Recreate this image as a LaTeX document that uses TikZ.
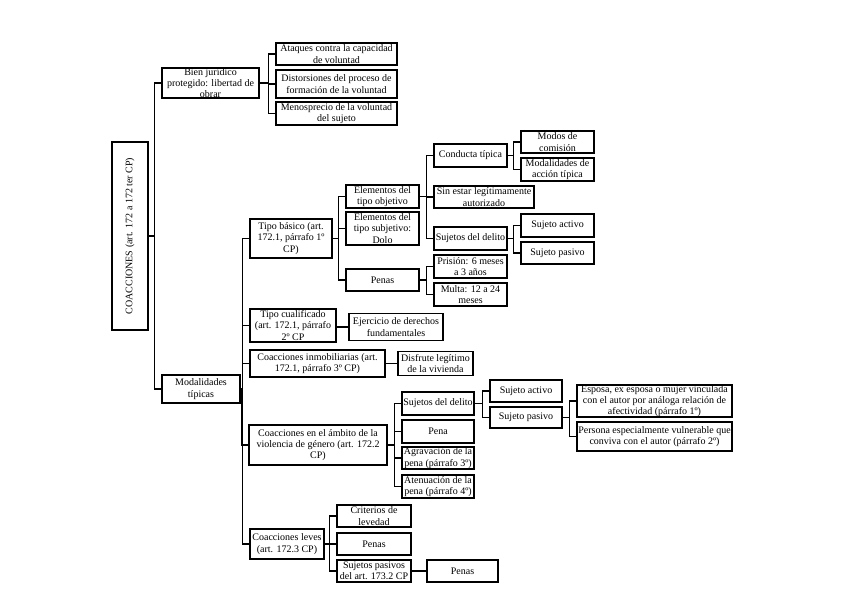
\documentclass[tikz,border=0pt]{standalone}
\usepackage{fontspec}
\setmainfont{Liberation Serif}
\begin{document}
\begin{tikzpicture}[x=1pt,y=-1pt,
  box/.style={draw=black, line width=1.1pt, align=center, inner sep=0pt,
    font=\fontsize{10}{11.3}\selectfont},
  conn/.style={line width=1.1pt, draw=black}]
\useasboundingbox (0,0) rectangle (848,599);
\fill[white] (0,0) rectangle (848,599);

% root
\node[box, minimum width=36, minimum height=188] (root) at (130,236)
  {\rotatebox{90}{COACCIONES (art. 172 a 172 ter CP)}};

% bien juridico
\node[box, minimum width=97, minimum height=30] (bien) at (210.5,83) {Bien jurídico\\protegido: libertad de\\obrar};
\node[box, minimum width=121, minimum height=22] (ataq) at (336.5,54) {Ataques contra la capacidad\\de voluntad};
\node[box, minimum width=121, minimum height=28] (dist) at (336.5,84) {Distorsiones del proceso de\\formación de la voluntad};
\node[box, minimum width=121, minimum height=23] (menos) at (336.5,113.5) {Menosprecio de la voluntad\\del sujeto};

% modalidades
\node[box, minimum width=78, minimum height=28] (mod) at (201,389) {Modalidades\\típicas};

% tipo basico
\node[box, minimum width=82, minimum height=39] (basico) at (291,238.5) {Tipo básico (art.\\172.1, párrafo 1º\\CP)};
\node[box, minimum width=73, minimum height=23] (eobj) at (382.5,196.5) {Elementos del\\tipo objetivo};
\node[box, minimum width=73, minimum height=33] (esubj) at (382.5,228.5) {Elementos del\\tipo subjetivo:\\Dolo};
\node[box, minimum width=73, minimum height=22] (penasa) at (382.5,280) {Penas};
\node[box, minimum width=73, minimum height=23] (cond) at (470.5,155.5) {Conducta típica};
\node[box, minimum width=100, minimum height=22] (sin) at (484,197) {Sin estar legítimamente\\autorizado};
\node[box, minimum width=73, minimum height=23] (sujA) at (470.5,238.5) {Sujetos del delito};
\node[box, minimum width=73, minimum height=22] (modos) at (557.5,142) {Modos de\\comisión};
\node[box, minimum width=73, minimum height=23] (modal) at (557.5,169.5) {Modalidades de\\acción típica};
\node[box, minimum width=73, minimum height=23] (sactA) at (557.5,225.5) {Sujeto activo};
\node[box, minimum width=73, minimum height=22] (spasA) at (557.5,253) {Sujeto pasivo};
\node[box, minimum width=73, minimum height=23] (pris) at (470.5,266.5) {Prisión: 6 meses\\a 3 años};
\node[box, minimum width=73, minimum height=23] (multa) at (470.5,294.5) {Multa: 12 a 24\\meses};

% tipo cualificado
\node[box, minimum width=86, minimum height=33] (cualif) at (293,325.5) {Tipo cualificado\\(art. 172.1, párrafo\\2º CP};
\node[box, minimum width=94, minimum height=27] (ejer) at (396,327) {Ejercicio de derechos\\fundamentales};

% inmobiliarias
\node[box, minimum width=135, minimum height=27] (inmob) at (317.5,363.5) {Coacciones inmobiliarias (art.\\172.1, párrafo 3º CP)};
\node[box, minimum width=75, minimum height=24] (disf) at (435.5,363.5) {Disfrute legítimo\\de la vivienda};

% violencia de genero
\node[box, minimum width=138, minimum height=40] (viol) at (318,445) {Coacciones en el ámbito de la\\violencia de género (art. 172.2\\CP)};
\node[box, minimum width=72, minimum height=23] (sujB) at (438,403.5) {Sujetos del delito};
\node[box, minimum width=72, minimum height=23] (penab) at (438,431.5) {Pena};
\node[box, minimum width=72, minimum height=22] (agrav) at (438,458) {Agravación de la\\pena (párrafo 3º)};
\node[box, minimum width=72, minimum height=23] (aten) at (438,486.5) {Atenuación de la\\pena (párrafo 4º)};
\node[box, minimum width=72, minimum height=22] (sactB) at (526,391) {Sujeto activo};
\node[box, minimum width=72, minimum height=21] (spasB) at (526,417.5) {Sujeto pasivo};
\node[box, minimum width=155, minimum height=32] (esposa) at (654.5,401) {Esposa, ex esposa o mujer vinculada\\con el autor por análoga relación de\\afectividad (párrafo 1º)};
\node[box, minimum width=155, minimum height=29] (persona) at (654.5,436.5) {Persona especialmente vulnerable que\\conviva con el autor (párrafo 2º)};

% leves
\node[box, minimum width=74, minimum height=30] (leves) at (287,544) {Coacciones leves\\(art. 172.3 CP)};
\node[box, minimum width=74, minimum height=22] (crit) at (374,516) {Criterios de\\levedad};
\node[box, minimum width=74, minimum height=22] (penasc) at (374,544) {Penas};
\node[box, minimum width=74, minimum height=22] (spasC) at (374,571) {Sujetos pasivos\\del art. 173.2 CP};
\node[box, minimum width=71, minimum height=22] (penasd) at (462.5,571) {Penas};

% connectors (elbow)
\foreach \p/\c in {root/bien, root/mod,
  bien/ataq, bien/dist, bien/menos,
  mod/basico, mod/cualif, mod/inmob, mod/viol, mod/leves,
  basico/eobj, basico/esubj, basico/penasa,
  eobj/cond, eobj/sin, eobj/sujA,
  cond/modos, cond/modal,
  sujA/sactA, sujA/spasA,
  penasa/pris, penasa/multa,
  viol/sujB, viol/penab, viol/agrav, viol/aten,
  sujB/sactB, sujB/spasB,
  spasB/esposa, spasB/persona,
  leves/crit, leves/penasc, leves/spasC}
  \draw[conn] (\p.east) -| ([xshift=-7pt]\c.west) -- (\c.west);

% straight connectors
\draw[conn] (ejer.west -| cualif.east) -- (ejer.west);
\draw[conn] (inmob.east) -- (disf.west);
\draw[conn] (spasC.east) -- (penasd.west);
\end{tikzpicture}
\end{document}
